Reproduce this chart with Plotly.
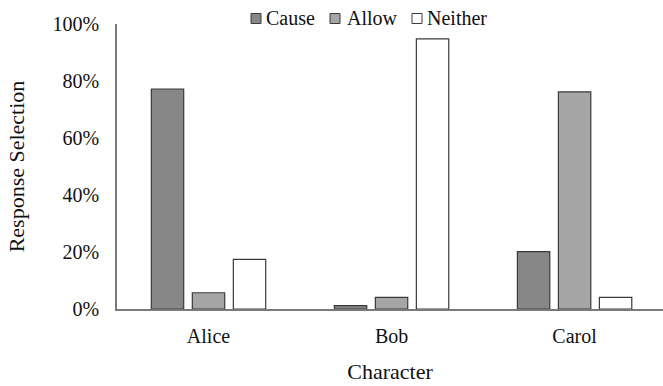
import plotly.graph_objects as go

characters = ["Alice", "Bob", "Carol"]
cause = [0.772, 0.012, 0.201]
allow = [0.057, 0.041, 0.762]
neither = [0.174, 0.948, 0.041]

series_names = ["Cause", "Allow", "Neither"]
series_values = [cause, allow, neither]
series_colors = ["#878787", "#a6a6a6", "#ffffff"]
OUTLINE = "#3a3a3a"

FONT = "Liberation Serif, Times New Roman, serif"

# plot area geometry in pixels (used to place the legend keys in paper coords)
L, R, T, B, W, H = 117, 0, 24, 77, 663, 386
PW, PH = W - L - R, H - T - B


def px_to_paper_x(px):
    return (px - L) / PW


def px_to_paper_y(py):
    return (H - B - py) / PH


fig = go.Figure()
for name, vals, color in zip(series_names, series_values, series_colors):
    fig.add_trace(go.Bar(
        name=name, x=characters, y=vals, showlegend=False,
        marker=dict(color=color, line=dict(color=OUTLINE, width=1.2)),
    ))

# legend row across the top: small square key followed by its label
key_left = [251, 330, 412]
text_left = [264, 345, 425]
key_size = 10
legend_cy = 18.5
shapes, annotations = [], []
for name, color, kx, tx in zip(series_names, series_colors, key_left, text_left):
    shapes.append(dict(
        type="rect", xref="paper", yref="paper",
        x0=px_to_paper_x(kx), x1=px_to_paper_x(kx + key_size),
        y0=px_to_paper_y(legend_cy + key_size / 2), y1=px_to_paper_y(legend_cy - key_size / 2),
        fillcolor=color, line=dict(color=OUTLINE, width=1),
    ))
    annotations.append(dict(
        text=name, xref="paper", yref="paper",
        x=px_to_paper_x(tx), y=px_to_paper_y(legend_cy),
        xanchor="left", yanchor="middle", showarrow=False,
        font=dict(family=FONT, size=20, color="#111111"),
    ))

fig.update_layout(
    width=W, height=H,
    margin=dict(l=L, r=R, t=T, b=B),
    paper_bgcolor="white", plot_bgcolor="white",
    barmode="group", bargap=0.328, bargroupgap=0.21,
    font=dict(family=FONT, size=20, color="#111111"),
    showlegend=False,
    shapes=shapes, annotations=annotations,
    xaxis=dict(
        range=[-0.5, 2.483], showline=True, linecolor="#7a7a7a", linewidth=1.5,
        ticks="", showgrid=False, zeroline=False, ticklabelstandoff=8,
        title=dict(text="Character", font=dict(family=FONT, size=22), standoff=18),
        tickfont=dict(family=FONT, size=20),
    ),
    yaxis=dict(
        range=[0, 1], tickvals=[0, 0.2, 0.4, 0.6, 0.8, 1.0], tickformat=".0%",
        showline=True, linecolor="#7a7a7a", linewidth=1.5,
        ticks="", showgrid=False, zeroline=False, ticklabelstandoff=12,
        title=dict(text="Response Selection", font=dict(family=FONT, size=22), standoff=22),
        tickfont=dict(family=FONT, size=20),
    ),
)

fig.write_html("out.html")
